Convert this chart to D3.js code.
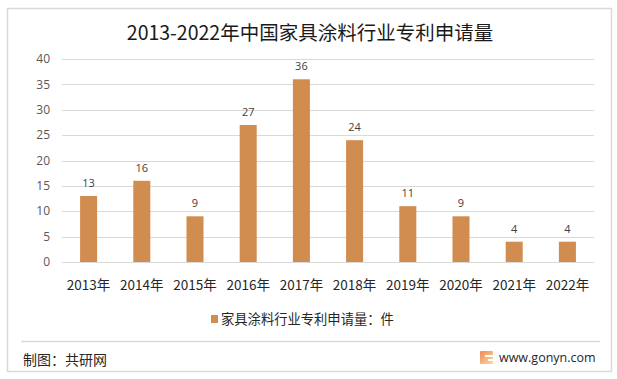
<!DOCTYPE html>
<html>
<head>
<meta charset="utf-8">
<script src="https://cdn.jsdelivr.net/npm/d3@7"></script>
<style>
  html, body { margin: 0; padding: 0; background: #fff; }
  text { font-family: "Noto Sans CJK SC", "Open Sans", sans-serif; }
</style>
</head>
<body>
<div id="chart"></div>
<script>
const years = ["2013年", "2014年", "2015年", "2016年", "2017年", "2018年", "2019年", "2020年", "2021年", "2022年"];
const patents = [13, 16, 9, 27, 36, 24, 11, 9, 4, 4];
const yTicks = [0, 5, 10, 15, 20, 25, 30, 35, 40];

const chartTitle = "2013-2022年中国家具涂料行业专利申请量";
const legendLabel = "家具涂料行业专利申请量：件";
const sourceLabel = "制图：共研网";
const siteLabel = "www.gonyn.com";

const width = 617, height = 379;
const barColor = "#d18c4f";
const gridColor = "#d9d9d9";

const svg = d3.select("#chart").append("svg")
  .attr("width", width)
  .attr("height", height)
  .style("display", "block");

// outer frame and footer rule
svg.append("rect")
  .attr("x", 7.5).attr("y", 8.5)
  .attr("width", 604).attr("height", 363)
  .attr("fill", "#fff")
  .attr("stroke", gridColor)
  .attr("stroke-width", 1.5);

svg.append("line")
  .attr("x1", 21).attr("x2", 600)
  .attr("y1", 341.5).attr("y2", 341.5)
  .attr("stroke", gridColor)
  .attr("stroke-width", 1.5);

const x = d3.scaleBand().domain(years).range([62, 594]).paddingInner(0.68).paddingOuter(0.34);
const y = d3.scaleLinear().domain([0, 40]).range([262, 59]);

// gridlines
svg.append("g").selectAll("line")
  .data(yTicks)
  .join("line")
  .attr("x1", 62).attr("x2", 594)
  .attr("y1", d => Math.round(y(d)) + 0.5)
  .attr("y2", d => Math.round(y(d)) + 0.5)
  .attr("stroke", gridColor);

// y axis labels
svg.append("g").selectAll("text")
  .data(yTicks)
  .join("text")
  .attr("x", 50)
  .attr("y", d => y(d))
  .attr("dy", "0.35em")
  .attr("text-anchor", "end")
  .attr("fill", "#595959")
  .style("font-size", "12px")
  .style("font-family", "'Open Sans', sans-serif")
  .text(d => d);

// bars
svg.append("g").selectAll("rect")
  .data(patents)
  .join("rect")
  .attr("x", (d, i) => x(years[i]))
  .attr("width", x.bandwidth())
  .attr("y", d => y(d))
  .attr("height", d => y(0) - y(d))
  .attr("fill", barColor);

// value labels
svg.append("g").selectAll("text")
  .data(patents)
  .join("text")
  .attr("x", (d, i) => x(years[i]) + x.bandwidth() / 2)
  .attr("y", d => y(d) - 9)
  .attr("text-anchor", "middle")
  .attr("fill", "#404040")
  .style("font-size", "11px")
  .style("font-family", "'Open Sans', sans-serif")
  .text(d => d);

// x axis labels
svg.append("g").selectAll("text")
  .data(years)
  .join("text")
  .attr("x", d => x(d) + x.bandwidth() / 2)
  .attr("y", 290)
  .attr("text-anchor", "middle")
  .attr("fill", "#262626")
  .style("font-size", "13.5px")
  .text(d => d);

// title
svg.append("text")
  .attr("x", 310).attr("y", 40)
  .attr("text-anchor", "middle")
  .attr("fill", "#1a1a1a")
  .style("font-size", "19.5px")
  .text(chartTitle);

// legend
svg.append("rect")
  .attr("x", 211).attr("y", 315)
  .attr("width", 7).attr("height", 8)
  .attr("fill", barColor);
svg.append("text")
  .attr("x", 221).attr("y", 324)
  .attr("fill", "#262626")
  .style("font-size", "13.3px")
  .text(legendLabel);

// footer
svg.append("text")
  .attr("x", 23).attr("y", 365)
  .attr("fill", "#262626")
  .style("font-size", "14px")
  .text(sourceLabel);

const logoGrad = svg.append("defs").append("linearGradient")
  .attr("id", "logoGrad")
  .attr("x1", 0).attr("x2", 1).attr("y1", 0).attr("y2", 1);
logoGrad.append("stop").attr("offset", "0").attr("stop-color", "#f08a5a");
logoGrad.append("stop").attr("offset", "1").attr("stop-color", "#fbd9a0");

svg.append("rect")
  .attr("x", 480).attr("y", 351)
  .attr("width", 13).attr("height", 13)
  .attr("rx", 1)
  .attr("fill", "url(#logoGrad)");
svg.append("path")
  .attr("d", "M493 355H485V357H493M488 359H493V361H488Z")
  .attr("fill", "#fff");

svg.append("text")
  .attr("x", 499).attr("y", 362)
  .attr("fill", "#262626")
  .style("font-size", "12.5px")
  .style("font-family", "'Open Sans', sans-serif")
  .text(siteLabel);
</script>
</body>
</html>
